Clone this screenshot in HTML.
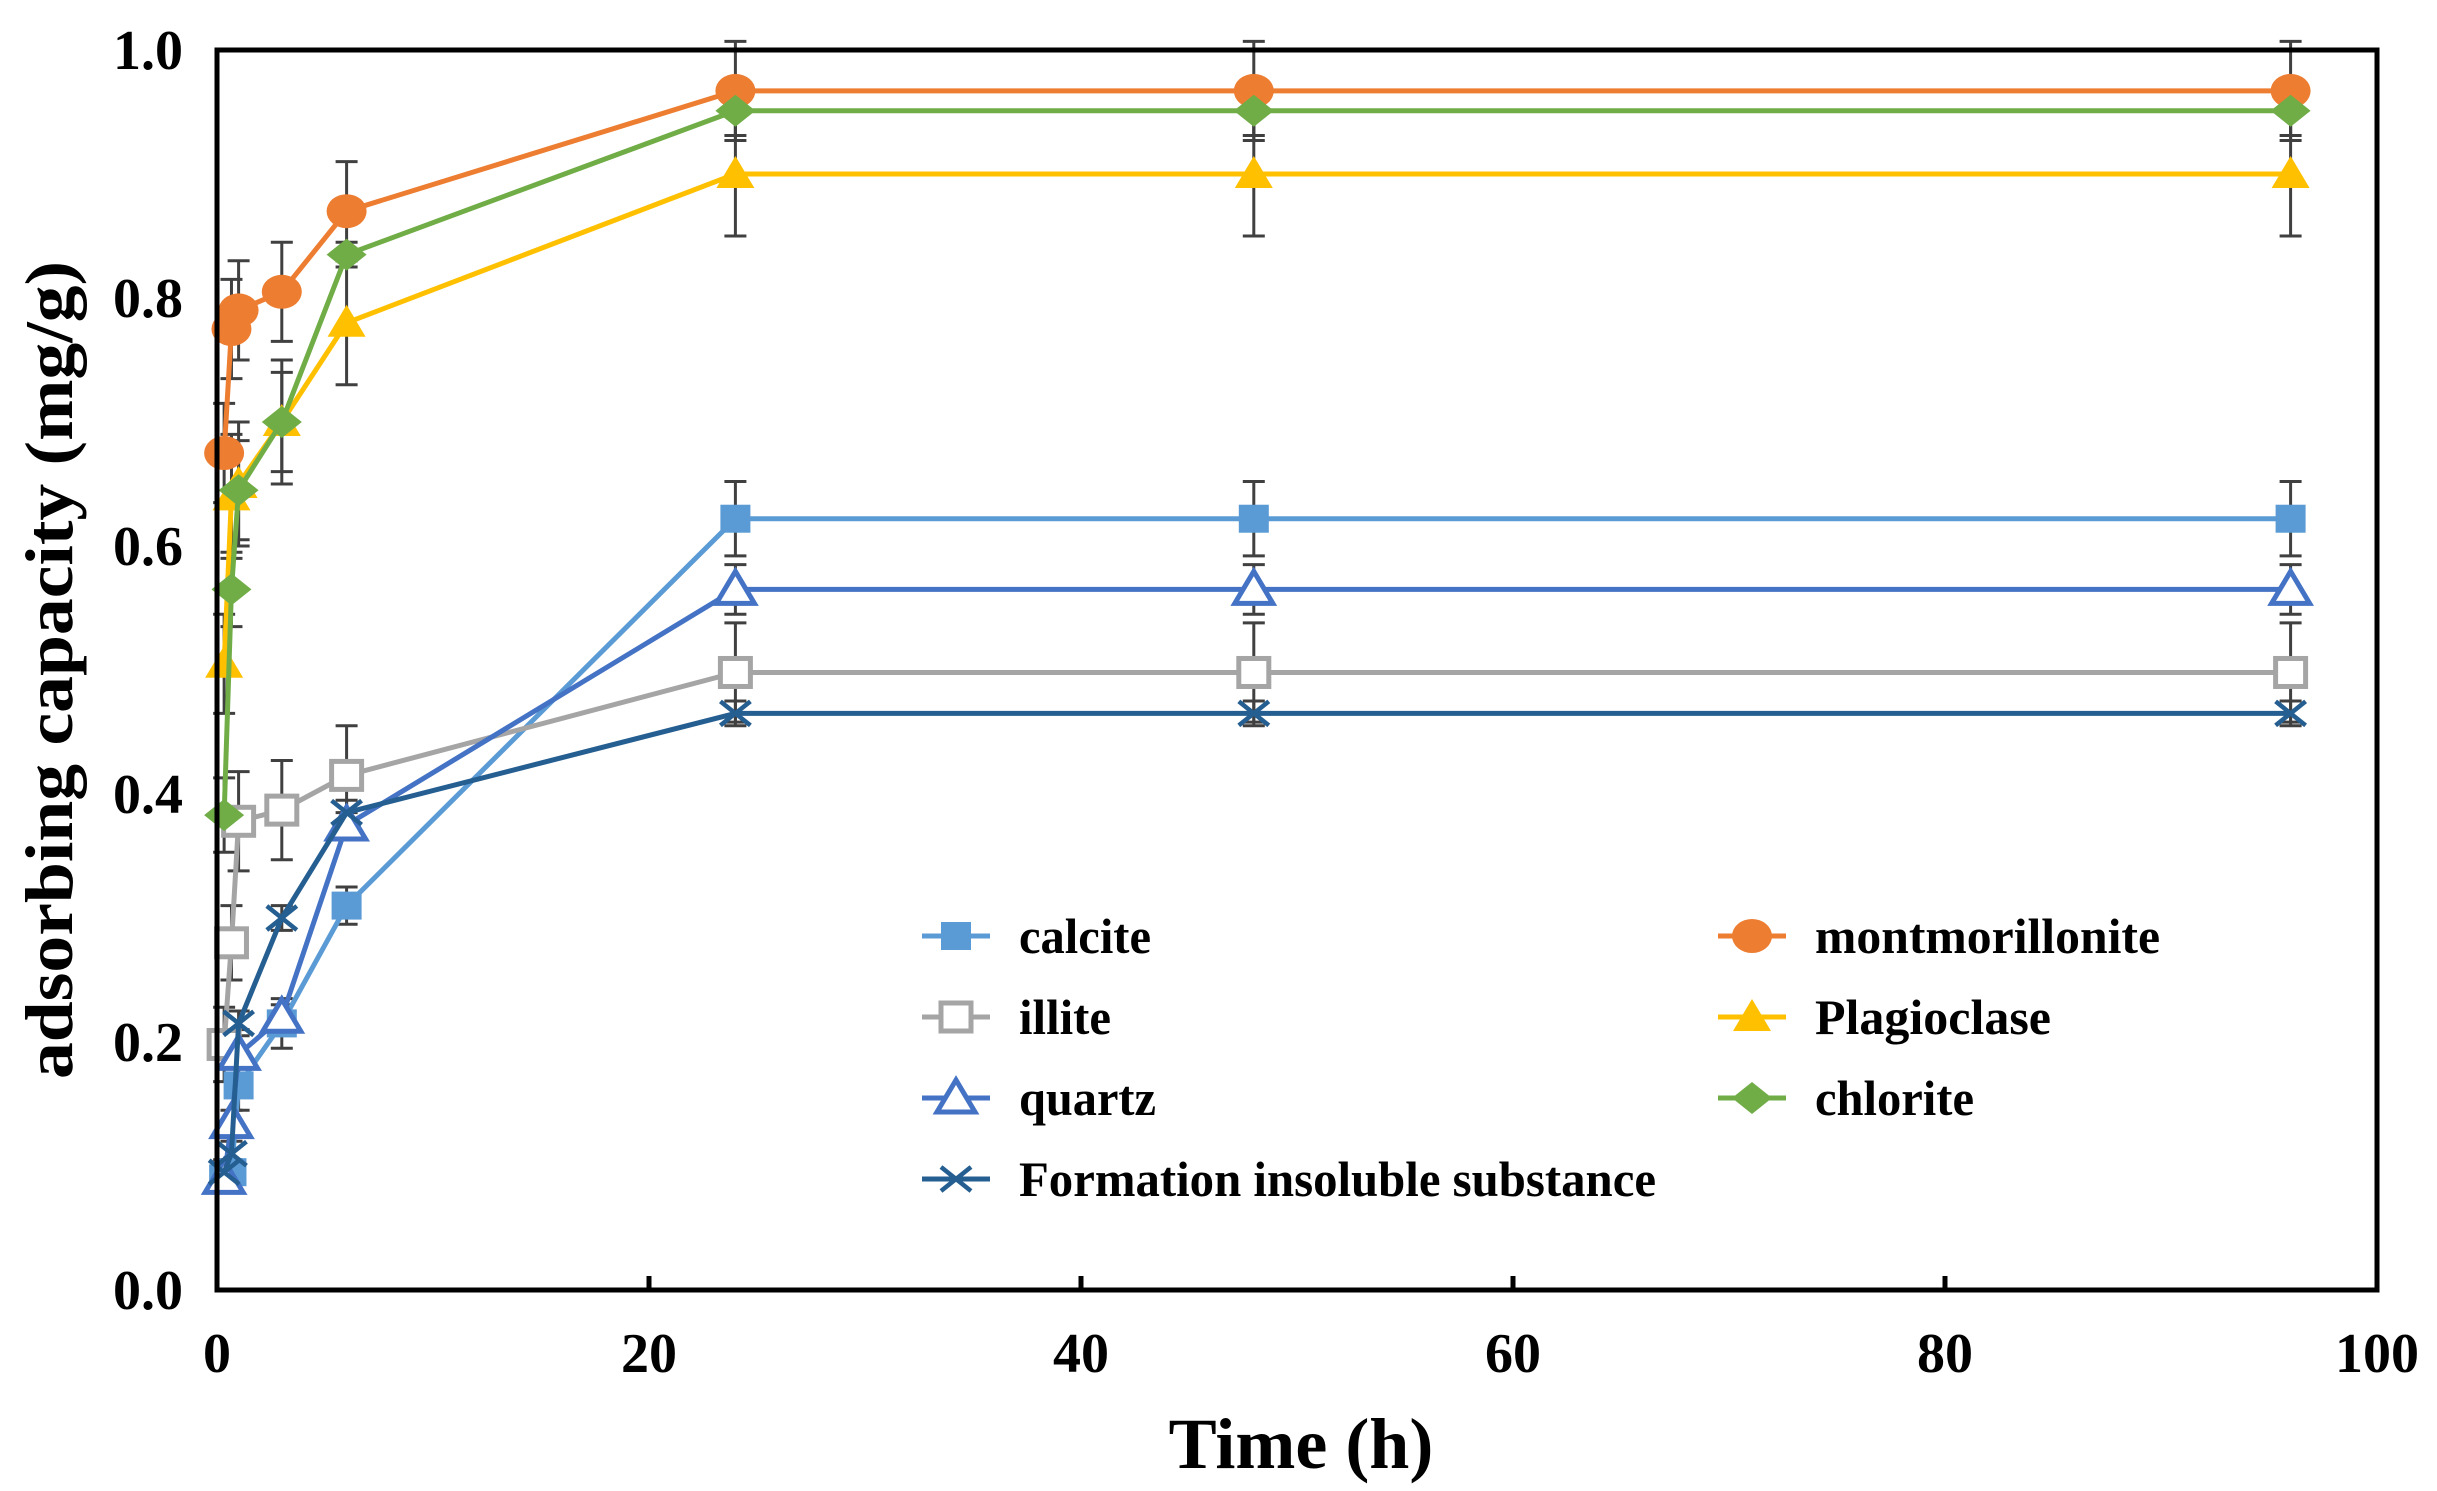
<!DOCTYPE html>
<html><head><meta charset="utf-8"><style>
html,body{margin:0;padding:0;background:#fff;}
svg{display:block;font-family:"Liberation Serif",serif;font-weight:bold;}
</style></head><body>
<svg id="chart" width="2437" height="1491" viewBox="0 0 2437 1491" xmlns="http://www.w3.org/2000/svg">
<rect width="2437" height="1491" fill="#fff"/>
<g id="errs"></g>
<g id="series"></g>
<rect x="217" y="50" width="2160" height="1240" fill="none" stroke="#000" stroke-width="5"/>
<g id="axes"></g>
<text x="1301" y="1468" font-size="72" text-anchor="middle">Time (h)</text>
<text transform="translate(72,670) rotate(-90)" font-size="68" text-anchor="middle" textLength="818" lengthAdjust="spacingAndGlyphs">adsorbing capacity (mg/g)</text>
<g id="legend"></g>
</svg>
<script>
const times = [0.33, 0.67, 1, 3, 6, 24, 48, 96];
const seriesNames = ["calcite","montmorillonite","illite","Plagioclase","quartz","chlorite","Formation insoluble substance"];
const calcite = [0.09, 0.095, 0.165, 0.215, 0.31, 0.622, 0.622, 0.622];
const montmorillonite = [0.675, 0.775, 0.79, 0.805, 0.87, 0.967, 0.967, 0.967];
const illite = [0.198, 0.28, 0.378, 0.387, 0.415, 0.498, 0.498, 0.498];
const plagioclase = [0.505, 0.64, 0.65, 0.70, 0.78, 0.90, 0.90, 0.90];
const quartz = [0.09, 0.135, 0.19, 0.22, 0.375, 0.565, 0.565, 0.565];
const chlorite = [0.383, 0.565, 0.645, 0.70, 0.835, 0.951, 0.951, 0.951];
const formation = [0.095, 0.11, 0.215, 0.30, 0.385, 0.465, 0.465, 0.465];
const errCalcite = [0.01, 0.01, 0.02, 0.02, 0.015, 0.03, 0.03, 0.03];
const errMont = [0.04, 0.04, 0.04, 0.04, 0.04, 0.04, 0.04, 0.04];
const errIllite = [0.03, 0.03, 0.04, 0.04, 0.04, 0.04, 0.04, 0.04];
const errPlag = [0.04, 0.05, 0.05, 0.05, 0.05, 0.05, 0.05, 0.05];
const errQuartz = [0.01, 0.01, 0.02, 0.01, 0.01, 0.02, 0.02, 0.02];
const errChlorite = [0.03, 0.03, 0.04, 0.04, 0.01, 0.02, 0.02, 0.02];
const errFormation = [0.01, 0.01, 0.01, 0.01, 0.01, 0.01, 0.01, 0.01];
const xTicks = [0, 20, 40, 60, 80, 100];
const yTicks = [0, 0.2, 0.4, 0.6, 0.8, 1.0];
const yTickLabels = ["0.0","0.2","0.4","0.6","0.8","1.0"];

const NS = "http://www.w3.org/2000/svg";
const X0=217, X1=2377, Y0=1290, Y1=50;
function sx(v){return X0+(v-0)/(100-0)*(X1-X0);}
function sy(v){return Y0-(v-0)/(1-0)*(Y0-Y1);}
function mk(tag, attrs, parent){const e=document.createElementNS(NS,tag);for(const k in attrs)e.setAttribute(k,attrs[k]);parent.appendChild(e);return e;}

const axes=document.getElementById('axes');
xTicks.forEach((t,i)=>{
  if(i>0&&i<xTicks.length-1){
    const tk=mk('line',{x1:sx(t),x2:sx(t),y1:Y0,y2:Y0-14,stroke:'#000','stroke-width':5},axes);
    
    
  }
  const lb=mk('text',{x:sx(t),y:1372,'font-size':56,'text-anchor':'middle'},axes);
  lb.textContent=t;
  
  
});
yTicks.forEach((t,i)=>{
  const lb=mk('text',{x:183,y:sy(t)+19,'font-size':56,'text-anchor':'end'},axes);
  lb.textContent=yTickLabels[i];
  
  
});

const defs=[
 {name:'calcite',vals:calcite,err:errCalcite,color:'#5B9BD5',m:'square',fill:true},
 {name:'montmorillonite',vals:montmorillonite,err:errMont,color:'#ED7D31',m:'circle',fill:true},
 {name:'illite',vals:illite,err:errIllite,color:'#A5A5A5',m:'square',fill:false},
 {name:'Plagioclase',vals:plagioclase,err:errPlag,color:'#FFC000',m:'triangle',fill:true},
 {name:'quartz',vals:quartz,err:errQuartz,color:'#4472C4',m:'triangle',fill:false},
 {name:'chlorite',vals:chlorite,err:errChlorite,color:'#70AD47',m:'diamond',fill:true},
 {name:'Formation insoluble substance',vals:formation,err:errFormation,color:'#255E91',m:'x',fill:true}
];
function marker(g,type,cx,cy,color,fill){
  let e;
  const f=fill?color:'#fff';
  if(type==='square') e=mk('rect',{x:cx-15,y:cy-14,width:30,height:28,fill:f,stroke:color,'stroke-width':fill?0:5},g);
  else if(type==='circle') e=mk('ellipse',{cx:cx,cy:cy,rx:20,ry:17,fill:color},g);
  else if(type==='triangle') e=mk('polygon',{points:`${cx},${cy-18} ${cx+19},${cy+14} ${cx-19},${cy+14}`,fill:f,stroke:color,'stroke-width':fill?0:5},g);
  else if(type==='diamond') e=mk('polygon',{points:`${cx},${cy-16} ${cx+20},${cy} ${cx},${cy+16} ${cx-20},${cy}`,fill:color},g);
  else e=mk('path',{d:`M${cx-15},${cy-12}L${cx+15},${cy+12}M${cx-15},${cy+12}L${cx+15},${cy-12}`,stroke:color,'stroke-width':4.5,fill:'none'},g);
  return e;
}
const errG=document.getElementById('errs'), serG=document.getElementById('series');
defs.forEach(d=>{
  d.vals.forEach((v,i)=>{
    const x=sx(times[i]), e=d.err[i];
    const p=mk('path',{d:`M${x},${sy(v-e)}V${sy(v+e)}M${x-11},${sy(v-e)}H${x+11}M${x-11},${sy(v+e)}H${x+11}`,stroke:'#404040','stroke-width':3,fill:'none'},errG);
    
    
  });
  const g=mk('g',{},serG);
  
  
  const pts=d.vals.map((v,i)=>sx(times[i])+','+sy(v)).join(' ');
  mk('polyline',{points:pts,fill:'none',stroke:d.color,'stroke-width':5},g);
  d.vals.forEach((v,i)=>{
    const m=marker(g,d.m,sx(times[i]),sy(v),d.color,d.fill);
    
    
  });
});

const leg=document.getElementById('legend');
const legPos=[[922,936],[1718,936],[922,1017],[1718,1017],[922,1098],[1718,1098],[922,1179]];
const legLen=[132,345,92,236,137,159,637];
defs.forEach((d,i)=>{
  const [lx,ly]=legPos[i];
  const g=mk('g',{},leg);
  
  
  mk('line',{x1:lx,x2:lx+68,y1:ly,y2:ly,stroke:d.color,'stroke-width':5},g);
  marker(g,d.m,lx+34,ly,d.color,d.fill);
  const t=mk('text',{x:lx+97,y:ly+17,'font-size':50,textLength:legLen[i],lengthAdjust:'spacingAndGlyphs'},g);
  t.textContent=d.name;
});
</script>
</body></html>
